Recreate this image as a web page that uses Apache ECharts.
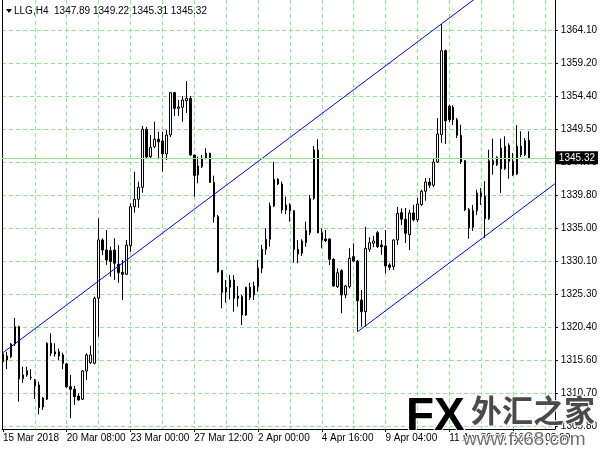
<!DOCTYPE html>
<html><head><meta charset="utf-8">
<script src="https://cdn.jsdelivr.net/npm/echarts@6/dist/echarts.min.js"></script>
<style>html,body{margin:0;padding:0;background:#fff}#c{width:600px;height:450px}</style>
</head><body><div id="c"></div><script>
const symbol = 'LLG,H4';
const openVals = [
1316.49,1315.60,1316.09,1317.96,1320.50,1312.86,1313.40,1313.00,1312.67,1311.93,
1308.70,1309.83,1318.06,1316.49,1316.82,1316.34,1315.02,1311.68,1311.30,1310.31,
1309.83,1313.99,1315.21,1315.12,1324.67,1333.24,1331.77,1331.67,1331.77,1329.67,
1328.49,1328.20,1332.40,1338.13,1339.22,1340.98,1349.51,1345.48,1346.95,1348.04,
1347.79,1345.88,1348.67,1354.89,1352.59,1352.74,1353.71,1354.06,1345.73,1342.79,
1344.01,1345.25,1345.98,1341.72,1336.66,1328.73,1325.55,1326.29,1327.36,1325.01,
1324.91,1322.22,1326.29,1325.16,1326.38,1329.08,1331.87,1333.34,1338.24,1342.16,
1341.47,1337.65,1338.38,1337.55,1331.87,1331.29,1332.84,1334.31,1339.37,1346.47,
1334.31,1333.39,1333.39,1330.40,1326.38,1328.73,1325.16,1326.38,1330.79,1330.15,
1324.42,1322.70,1331.87,1332.75,1334.31,1332.50,1332.36,1329.57,1329.32,1333.24,
1337.25,1336.28,1334.02,1337.21,1336.22,1338.43,1340.40,1341.76,1341.28,1344.70,
1348.71,1361.06,1352.89,1352.74,1350.92,1348.63,1344.89,1337.69,1335.11,1337.55,
1340.15,1339.66,1336.37,1344.89,1344.31,1346.76,1343.72,1347.16,1344.81,1342.94,
1347.01,1345.78,1347.89];
const highVals = [
1316.93,1316.82,1318.10,1321.78,1320.65,1314.62,1314.62,1314.24,1312.81,1312.42,
1310.17,1318.21,1319.53,1318.06,1317.27,1316.68,1315.21,1313.40,1311.78,1310.71,
1314.13,1316.59,1317.71,1324.91,1336.43,1333.49,1334.71,1332.25,1333.49,1332.50,
1330.30,1333.24,1338.63,1343.28,1341.81,1349.99,1349.85,1348.67,1350.63,1349.16,
1349.16,1349.41,1354.99,1354.99,1353.81,1354.40,1356.61,1354.40,1345.73,1345.48,
1345.73,1346.72,1346.07,1342.69,1336.91,1328.83,1327.36,1328.10,1328.10,1326.48,
1325.16,1326.38,1326.96,1327.11,1330.30,1332.50,1334.96,1338.72,1344.75,1342.31,
1341.81,1339.60,1338.63,1337.55,1333.24,1333.34,1335.93,1339.85,1347.05,1348.04,
1334.96,1334.71,1333.49,1330.55,1329.08,1328.93,1326.63,1332.02,1332.75,1330.30,
1325.89,1335.19,1333.64,1333.83,1334.56,1333.24,1334.71,1329.82,1333.34,1338.09,
1337.90,1337.94,1337.69,1338.43,1339.41,1340.63,1342.35,1342.35,1345.29,1351.17,
1364.98,1361.21,1353.12,1353.04,1351.17,1350.18,1345.00,1337.94,1338.38,1340.63,
1340.88,1341.87,1346.51,1348.13,1345.54,1348.13,1348.48,1347.45,1346.03,1350.10,
1349.21,1348.23,1349.22];
const lowVals = [
1313.69,1314.28,1315.90,1317.66,1309.48,1312.22,1313.15,1312.67,1309.87,1307.62,
1308.26,1309.73,1316.19,1316.09,1315.60,1314.24,1311.49,1307.04,1308.99,1309.62,
1309.73,1312.67,1315.02,1314.97,1319.03,1331.04,1329.57,1327.85,1327.36,1326.96,
1324.42,1328.10,1331.52,1337.25,1337.99,1340.19,1345.14,1345.25,1346.72,1345.10,
1343.28,1345.00,1348.38,1351.46,1351.46,1350.62,1351.90,1345.58,1339.60,1341.57,
1343.82,1345.10,1341.66,1335.78,1328.43,1323.20,1324.03,1324.52,1322.70,1323.44,
1320.75,1322.07,1324.42,1324.42,1325.64,1328.35,1331.04,1332.25,1338.09,1341.32,
1337.16,1337.06,1335.93,1329.90,1329.82,1330.89,1332.25,1333.97,1339.12,1334.22,
1332.02,1332.95,1329.57,1326.38,1326.19,1322.47,1324.67,1326.14,1330.01,1319.76,
1320.50,1320.50,1331.48,1332.17,1332.06,1331.04,1328.35,1328.83,1328.83,1332.50,
1335.44,1332.80,1331.77,1335.99,1335.88,1338.24,1339.01,1340.88,1341.03,1344.56,
1347.49,1347.35,1350.58,1350.14,1348.23,1344.41,1337.50,1333.43,1334.56,1336.91,
1338.38,1333.53,1336.18,1342.84,1344.11,1340.15,1343.53,1342.25,1342.64,1342.79,
1345.44,1345.58,1345.31];
const closeVals = [
1315.35,1316.19,1317.96,1320.50,1312.81,1313.40,1314.03,1313.06,1311.83,1308.59,
1310.02,1318.06,1316.59,1316.82,1316.19,1315.12,1311.68,1311.30,1310.21,1309.73,
1313.99,1316.34,1316.34,1324.67,1333.24,1331.77,1330.30,1330.05,1329.82,1328.43,
1328.20,1332.50,1338.13,1339.22,1340.98,1349.51,1345.44,1346.86,1348.04,1347.69,
1345.88,1348.67,1354.89,1352.59,1352.79,1353.81,1354.06,1345.73,1342.72,1344.11,
1345.25,1345.98,1341.72,1336.66,1328.58,1325.55,1326.29,1327.36,1324.67,1324.67,
1322.22,1326.29,1324.82,1326.48,1329.08,1331.87,1333.34,1338.24,1342.16,1341.47,
1337.65,1338.38,1337.55,1331.87,1331.18,1333.09,1334.61,1339.37,1346.47,1334.31,
1333.24,1333.14,1330.40,1326.48,1328.43,1325.16,1326.48,1330.55,1330.15,1324.32,
1322.70,1332.02,1332.84,1333.09,1332.25,1332.25,1329.42,1329.23,1333.24,1337.16,
1336.28,1334.22,1337.21,1336.22,1338.53,1340.40,1341.76,1341.28,1344.70,1348.82,
1361.06,1350.77,1350.92,1350.92,1348.63,1344.70,1337.69,1335.00,1337.55,1340.15,
1339.66,1336.37,1344.89,1344.31,1345.39,1343.72,1347.01,1344.81,1342.84,1347.01,
1345.78,1347.83,1345.32];

// x-axis: bar positions of labels and of vertical grid lines
const xTickPos = [0,16,32,48,64,80,96,112,128];
const xTickLabels = ['15 Mar 2018','20 Mar 08:00','23 Mar 00:00','27 Mar 12:00','2 Apr 00:00','4 Apr 16:00','9 Apr 04:00','11 Apr 20:00','16 Apr 08:00'];
const xGridPos = [8,16,24,32,40,48,56,64,72,80,88,96,104,112,120,128,136];
const yTickLabels = ['1305.80','1310.70','1315.60','1320.40','1325.30','1330.10','1335.00','1339.80','1344.70','1349.50','1354.40','1359.20','1364.10'];
const yTickValues = yTickLabels.map(Number);

// channel lines (bar index, price)
const channelUpper = [[-0.25, 1316.57], [138.5, 1377.49]];
const channelLower = [[89, 1319.76], [138.5, 1341.50]];

const xMin = -0.25, xMax = 138.5, yMin = 1305.46, yMax = 1368.51;
const FONT = 'Liberation Sans, Arial, sans-serif';
const GRID_GREEN = '#8fe68f';

const candles = openVals.map((o, i) => [i, o, closeVals[i], lowVals[i], highVals[i]]);
const last = candles.length - 1;
const fmt = v => v.toFixed(2);

const chart = echarts.init(document.getElementById('c'), null, {renderer: 'canvas'});
chart.setOption({
  animation: false,
  backgroundColor: '#fff',
  grid: {left: 2, right: 43, top: 0, bottom: 21, containLabel: false},
  xAxis: [
    {type: 'value', min: xMin, max: xMax, position: 'bottom',
     axisLine: {show: true, onZero: false, lineStyle: {color: '#000', width: 1}},
     axisTick: {show: false, customValues: xGridPos},
     axisLabel: {show: false},
     splitLine: {show: true, lineStyle: {color: GRID_GREEN, width: 1, type: [4, 3]}}},
    {type: 'value', min: xMin, max: xMax, position: 'bottom',
     axisLine: {show: false, onZero: false},
     axisTick: {show: true, customValues: xTickPos, length: 3, lineStyle: {color: '#000'}},
     axisLabel: {show: true, customValues: xTickPos, align: 'left', margin: 4, fontSize: 10, fontFamily: FONT, color: '#000',
       formatter: v => xTickLabels[xTickPos.indexOf(v)] || ''},
     splitLine: {show: false}}
  ],
  yAxis: [
    {type: 'value', position: 'right', min: yMin, max: yMax, scale: true,
     axisLine: {show: true, onZero: false, lineStyle: {color: '#000', width: 1}},
     axisTick: {show: true, customValues: yTickValues, length: 3, lineStyle: {color: '#000'}},
     axisLabel: {show: true, customValues: yTickValues, margin: 6, fontSize: 10, fontFamily: FONT, color: '#000',
       formatter: v => yTickLabels[yTickValues.indexOf(v)] || fmt(v)},
     splitLine: {show: true, lineStyle: {color: GRID_GREEN, width: 1, type: [4, 3]}}},
    {type: 'value', position: 'left', min: yMin, max: yMax, scale: true,
     axisLine: {show: true, onZero: false, lineStyle: {color: '#000', width: 1}},
     axisTick: {show: false}, axisLabel: {show: false}, splitLine: {show: false}}
  ],
  series: [
    {type: 'candlestick', xAxisIndex: 0, yAxisIndex: 0, data: candles,
     encode: {x: 0, y: [1, 2, 3, 4]},
     barWidth: 2,
     itemStyle: {color: '#ffffff', color0: '#000000', borderColor: '#000000', borderColor0: '#000000', borderWidth: 1},
     markLine: {silent: true, symbol: 'none', animation: false,
       lineStyle: {color: GRID_GREEN, type: 'solid', width: 1},
       label: {show: true, position: 'end', distance: 1, color: '#fff', backgroundColor: '#000',
         padding: [2, 3, 1, 3], fontSize: 10, fontFamily: FONT, formatter: p => fmt(p.value)},
       data: [{yAxis: closeVals[last]}]},
     z: 3},
    {type: 'line', xAxisIndex: 0, yAxisIndex: 0, data: channelUpper, symbol: 'none', clip: true,
     lineStyle: {color: '#0000ff', width: 1}, z: 4},
    {type: 'line', xAxisIndex: 0, yAxisIndex: 0, data: channelLower, symbol: 'none', clip: true,
     lineStyle: {color: '#0000ff', width: 1}, z: 4}
  ],
  graphic: [
    {type: 'polygon', shape: {points: [[6, 9], [12, 9], [9, 13]]}, style: {fill: '#000'}, z: 10},
    {type: 'text', x: 14, y: 11, z: 10, style: {
      text: symbol + '  ' + [openVals[last], highVals[last], lowVals[last], closeVals[last]].map(fmt).join(' '),
      font: '10px ' + FONT, fill: '#000', verticalAlign: 'middle'}},
    {type: 'text', x: 406, y: 394, z: 20, style: {
      text: 'FX', font: 'bold 46px ' + FONT, stroke: '#ffffff', lineWidth: 2,
      fill: new echarts.graphic.LinearGradient(0, 0, 0, 1, [{offset: 0, color: '#55b4ea'}, {offset: 1, color: '#5a62c8'}])}},
    {type: 'text', x: 471, y: 395, z: 20, style: {
      text: '外汇之家', font: 'bold 31px Noto Sans CJK SC', fill: '#4a4a4a', stroke: '#ffffff', lineWidth: 2}},
    {type: 'text', x: 463, y: 430, z: 20, style: {
      text: 'www.fx68.com', font: '19px ' + FONT, fill: '#707070', stroke: '#ffffff', lineWidth: 2}}
  ]
});
</script></body></html>
